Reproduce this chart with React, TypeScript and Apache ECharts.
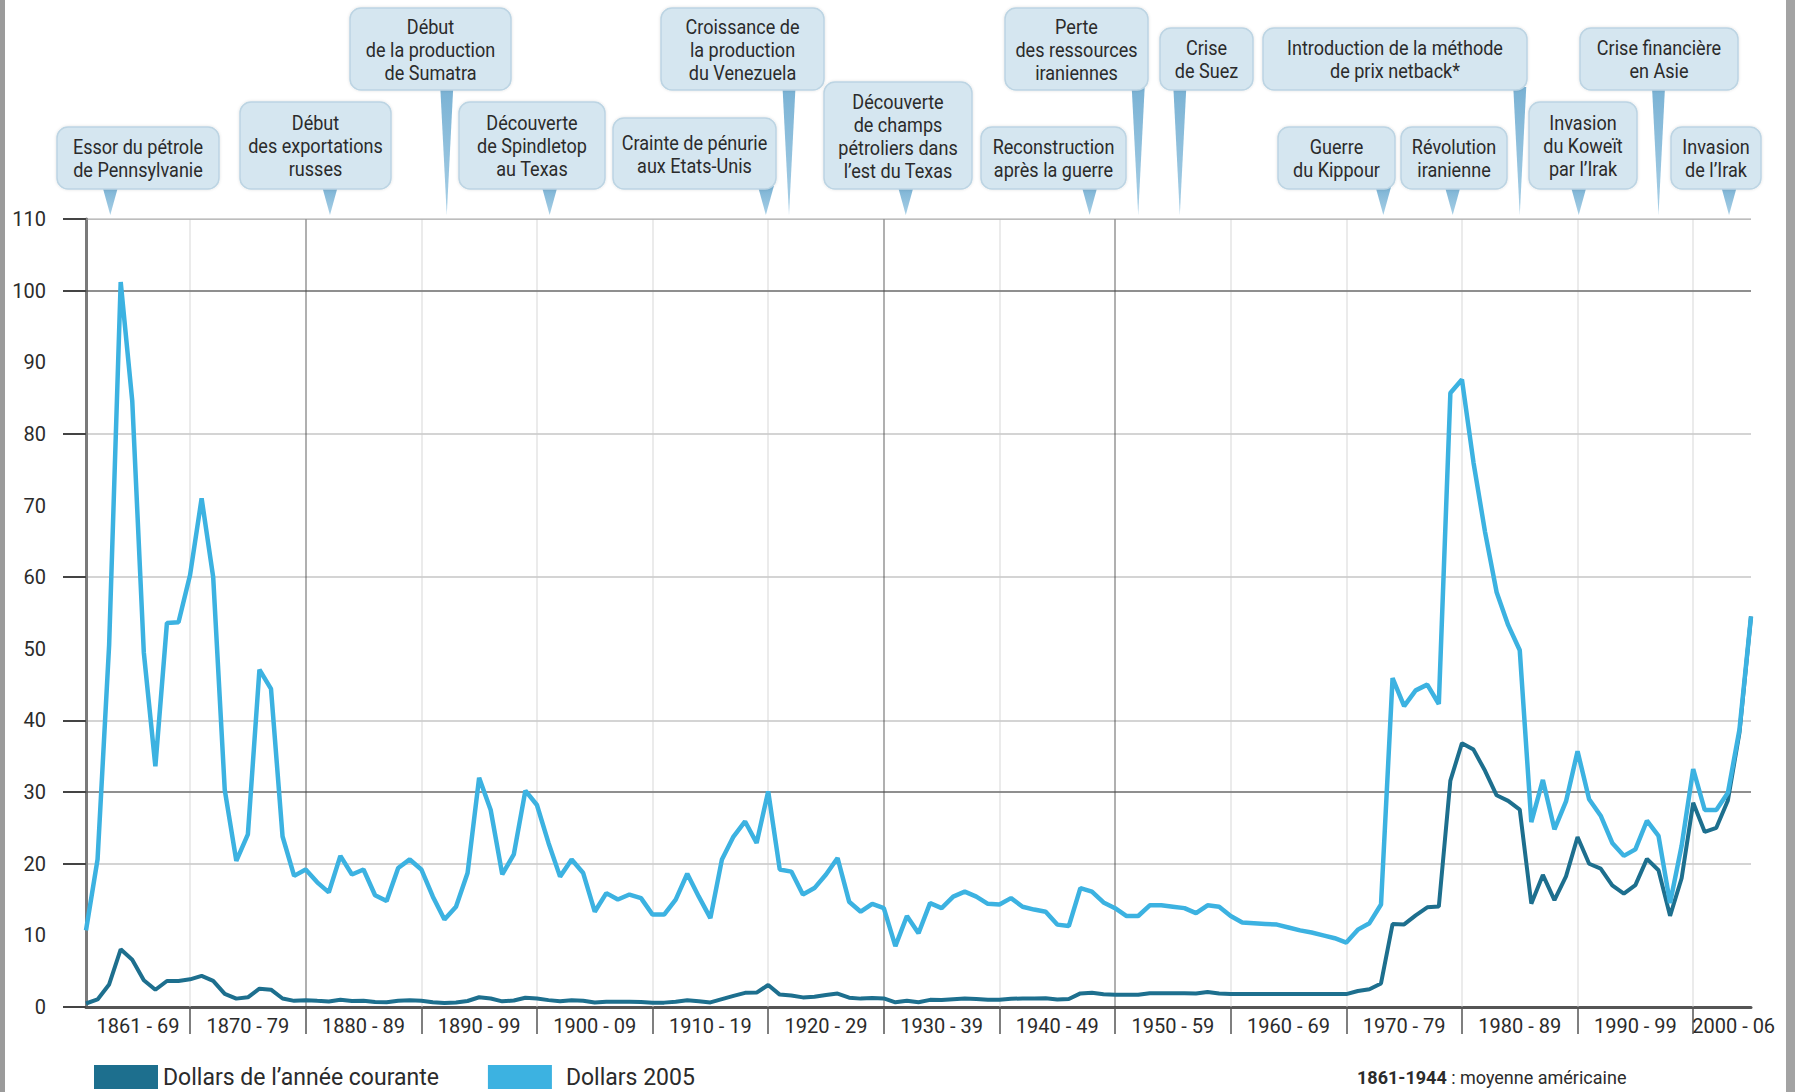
import React, { useEffect, useRef } from "react";
import * as echarts from "echarts";

// ---------- data ----------
const startYear = 1861;
const currentDollars = [
  0.49, 1.05, 3.15, 8.06, 6.59, 3.74, 2.41, 3.63, 3.64, 3.86,
  4.34, 3.64, 1.83, 1.17, 1.35, 2.56, 2.42, 1.19, 0.86, 0.95,
  0.86, 0.78, 1.0, 0.84, 0.88, 0.71, 0.67, 0.88, 0.94, 0.87,
  0.67, 0.56, 0.64, 0.84, 1.36, 1.18, 0.79, 0.91, 1.29, 1.19,
  0.96, 0.8, 0.94, 0.86, 0.62, 0.73, 0.72, 0.72, 0.7, 0.61,
  0.61, 0.74, 0.95, 0.81, 0.64, 1.1, 1.56, 1.98, 2.01, 3.07,
  1.73, 1.61, 1.34, 1.43, 1.68, 1.88, 1.3, 1.17, 1.27, 1.19,
  0.65, 0.87, 0.67, 1.0, 0.97, 1.09, 1.18, 1.13, 1.02, 1.02,
  1.14, 1.19, 1.2, 1.21, 1.05, 1.12, 1.9, 1.99, 1.78, 1.71,
  1.71, 1.71, 1.93, 1.93, 1.93, 1.93, 1.9, 2.08, 1.9, 1.8,
  1.8, 1.8, 1.8, 1.8, 1.8, 1.8, 1.8, 1.8, 1.8, 1.8,
  2.24, 2.48, 3.29, 11.58, 11.53, 12.8, 13.92, 14.02, 31.61, 36.83,
  35.93, 32.97, 29.55, 28.78, 27.56, 14.43, 18.44, 14.92, 18.23, 23.73,
  20.0, 19.32, 16.97, 15.82, 17.02, 20.67, 19.09, 12.72, 17.97, 28.5,
  24.44, 25.02, 28.83, 38.27, 54.52,
];
const dollars2005 = [
  10.7, 20.6, 50.5, 101.2, 84.6, 49.5, 33.6, 53.6, 53.7, 60.3,
  71.0, 60.0, 30.3, 20.4, 24.1, 47.1, 44.4, 23.8, 18.3, 19.2,
  17.4, 16.0, 21.1, 18.5, 19.2, 15.6, 14.8, 19.4, 20.6, 19.2,
  15.4, 12.2, 14.0, 18.7, 32.0, 27.5, 18.5, 21.3, 30.2, 28.2,
  22.9, 18.2, 20.6, 18.7, 13.3, 15.9, 15.0, 15.7, 15.2, 12.9,
  12.9, 15.0, 18.6, 15.4, 12.4, 20.6, 23.8, 25.9, 22.9, 30.1,
  19.2, 18.9, 15.7, 16.6, 18.5, 20.8, 14.7, 13.3, 14.4, 13.8,
  8.5, 12.7, 10.3, 14.5, 13.8, 15.4, 16.1, 15.4, 14.4, 14.3,
  15.2, 14.0, 13.6, 13.3, 11.5, 11.3, 16.6, 16.1, 14.6, 13.8,
  12.7, 12.7, 14.2, 14.2, 14.0, 13.8, 13.1, 14.2, 14.0, 12.7,
  11.8, 11.7, 11.6, 11.5, 11.1, 10.7, 10.4, 10.0, 9.6, 9.0,
  10.8, 11.7, 14.3, 45.9, 42.0, 44.2, 45.0, 42.3, 85.7, 87.6,
  76.0, 66.3, 57.9, 53.3, 49.8, 25.8, 31.7, 24.8, 28.7, 35.7,
  29.0, 26.7, 22.9, 21.1, 22.0, 26.0, 23.9, 14.5, 22.5, 33.2,
  27.5, 27.5, 29.9, 38.7, 54.5,
];
const seriesNames = ["Dollars de l’année courante", "Dollars 2005"];

const xLabelPositions = [1865.5, 1875, 1885, 1895, 1905, 1915, 1925, 1935, 1945, 1955, 1965, 1975, 1985, 1995, 2003.5];
const xLabels = [
  "1861 - 69", "1870 - 79", "1880 - 89", "1890 - 99", "1900 - 09", "1910 - 19", "1920 - 29",
  "1930 - 39", "1940 - 49", "1950 - 59", "1960 - 69", "1970 - 79", "1980 - 89", "1990 - 99", "2000 - 06",
];
const decadeLines = [1870, 1880, 1890, 1900, 1910, 1920, 1930, 1940, 1950, 1960, 1970, 1980, 1990, 2000];
const darkDecades = [1880, 1930, 1950];
const darkLevels = [30, 100];
const yTicks = [0, 20, 30, 40, 60, 80, 100, 110];

const events = [
  { text: "Essor du pétrole\nde Pennsylvanie", year: 1863.1 },
  { text: "Début\ndes exportations\nrusses", year: 1882.1 },
  { text: "Début\nde la production\nde Sumatra", year: 1892.2 },
  { text: "Découverte\nde Spindletop\nau Texas", year: 1901.1 },
  { text: "Crainte de pénurie\naux Etats-Unis", year: 1919.8 },
  { text: "Croissance de\nla production\ndu Venezuela", year: 1921.8 },
  { text: "Découverte\nde champs\npétroliers dans\nl’est du Texas", year: 1931.9 },
  { text: "Reconstruction\naprès la guerre", year: 1947.8 },
  { text: "Perte\ndes ressources\niraniennes", year: 1952.0 },
  { text: "Crise\nde Suez", year: 1955.6 },
  { text: "Introduction de la méthode\nde prix netback*", year: 1985.0 },
  { text: "Guerre\ndu Kippour", year: 1973.2 },
  { text: "Révolution\niranienne", year: 1979.2 },
  { text: "Invasion\ndu Koweït\npar l’Irak", year: 1990.1 },
  { text: "Crise financière\nen Asie", year: 1997.0 },
  { text: "Invasion\nde l’Irak", year: 2003.1 },
];
// box layout in px: [left, top, width, height]
const boxLayout = [
  [57, 127, 162, 62],
  [240, 102, 151, 87],
  [350, 8, 161, 82],
  [459, 102, 146, 87],
  [613, 118, 163, 71],
  [661, 8, 163, 82],
  [824, 82, 148, 107],
  [981, 127, 145, 62],
  [1005, 8, 143, 82],
  [1160, 28, 93, 62],
  [1263, 28, 264, 62],
  [1278, 127, 117, 62],
  [1401, 127, 106, 62],
  [1529, 102, 108, 87],
  [1580, 28, 158, 62],
  [1671, 127, 90, 62],
];

const FONT = "Roboto, 'Liberation Sans', sans-serif";

export default function App() {
  const ref = useRef<HTMLDivElement>(null);
  useEffect(() => {
    document.body.style.margin = "0";
    document.body.style.overflow = "hidden";
    const chart = echarts.init(ref.current!, undefined, { renderer: "svg" });
    const pts = (arr: number[]) => arr.map((v, i) => [startYear + i, v]);
    const gridLineData = [
      ...decadeLines.map((x) => ({
        coords: [[x, 0], [x, 110]],
        lineStyle: { color: darkDecades.includes(x) ? "#3a3a3a" : "#cdcdcd", width: 1.6 },
      })),
      ...darkLevels.map((y) => ({
        coords: [[startYear, y], [2005, y]],
        lineStyle: { color: "#4a4a4a", width: 2.2 },
      })),
      { coords: [[startYear, 110], [2005, 110]], lineStyle: { color: "#a5a5a5", width: 2 } },
    ];
    chart.setOption({
      animation: false,
      backgroundColor: "#ffffff",
      grid: { left: 86, right: 44, top: 219, bottom: 85, containLabel: false },
      xAxis: {
        type: "value",
        min: 1861,
        max: 2005,
        axisLine: { show: true, lineStyle: { color: "#555", width: 3 } },
        axisTick: { show: true, customValues: decadeLines, length: 27, lineStyle: { color: "#555", width: 1.5 } },
        axisLabel: {
          show: true,
          customValues: xLabelPositions,
          formatter: (v: number) => xLabels[xLabelPositions.indexOf(v)] ?? "",
          fontSize: 20,
          fontFamily: FONT,
          color: "#2b2b2b",
          margin: 9,
        },
        splitLine: { show: false },
      },
      yAxis: {
        type: "value",
        min: 0,
        max: 110,
        interval: 10,
        axisLine: { show: true, lineStyle: { color: "#7a7a7a", width: 3 } },
        axisTick: { show: true, customValues: yTicks, length: 23, lineStyle: { color: "#444", width: 2 } },
        axisLabel: { fontSize: 20, fontFamily: FONT, color: "#2b2b2b", margin: 40 },
        splitLine: { show: true, lineStyle: { color: "#d4d4d4", width: 2 } },
      },
      legend: {
        data: [
          { name: seriesNames[0] },
          { name: seriesNames[1], textStyle: { padding: [0, 0, 0, 9] } },
        ],
        left: 89,
        top: 1060,
        icon: "rect",
        itemWidth: 64,
        itemHeight: 24,
        itemGap: 49,
        textStyle: { fontSize: 23, fontFamily: FONT, color: "#2b2b2b" },
      },
      series: [
        {
          type: "lines",
          coordinateSystem: "cartesian2d",
          silent: true,
          z: 1,
          data: gridLineData,
        },
        {
          name: seriesNames[0],
          type: "line",
          data: pts(currentDollars),
          showSymbol: false,
          z: 3,
          color: "#1d6f8e",
          lineStyle: { color: "#1d6f8e", width: 4 },
        },
        {
          name: seriesNames[1],
          type: "line",
          data: pts(dollars2005),
          showSymbol: false,
          z: 4,
          color: "#3cb2e1",
          lineStyle: { color: "#3cb2e1", width: 4.5 },
        },
      ],
    });

    const tipY = (chart.convertToPixel({ yAxisIndex: 0 }, 110) as number) - 4;
    const graphics: any[] = [];
    events.forEach((ev, i) => {
      const [bx, by, bw, bh] = boxLayout[i];
      const px = chart.convertToPixel({ xAxisIndex: 0 }, ev.year) as number;
      const topRow = by < 60;
      const hw = topRow ? 6.5 : 8;
      const baseY = by + bh - 3;
      graphics.push({
        type: "polygon",
        shape: { points: [[px - hw, baseY], [px + hw, baseY], [px, tipY]] },
        style: {
          fill: new echarts.graphic.LinearGradient(0, 0, 0, 1, [
            { offset: 0, color: "#7ab2d4" },
            { offset: 1, color: "#a7cfe6" },
          ]),
        },
        z: 10,
      });
      graphics.push({
        type: "rect",
        shape: { x: bx, y: by, width: bw, height: bh, r: 11 },
        style: { fill: "#d5e6f0", stroke: "#bcd4e3", lineWidth: 1.5, shadowBlur: 3, shadowColor: "rgba(0,0,0,0.12)" },
        z: 11,
      });
      graphics.push({
        type: "text",
        x: bx + bw / 2,
        y: by + bh / 2 + 1,
        scaleX: 0.86,
        style: {
          text: ev.text,
          fontSize: 21,
          fontFamily: FONT,
          fill: "#2b2b2b",
          align: "center",
          verticalAlign: "middle",
          lineHeight: 23,
        },
        z: 12,
      });
    });
    graphics.push({
      type: "text",
      x: 1357,
      y: 1068,
      style: {
        text: "{b|1861-1944} : moyenne américaine",
        fontSize: 18,
        fontFamily: FONT,
        fill: "#2b2b2b",
        rich: { b: { fontWeight: "bold", fontSize: 18, fontFamily: FONT } },
      },
      z: 12,
    });
    graphics.push({ type: "rect", shape: { x: 0, y: 0, width: 5, height: 1092 }, style: { fill: "#9b9b9b" }, z: 20 });
    graphics.push({ type: "rect", shape: { x: 1786, y: 0, width: 9, height: 1092 }, style: { fill: "#a3a3a3" }, z: 20 });
    chart.setOption({ graphic: graphics });

    return () => chart.dispose();
  }, []);
  return <div ref={ref} style={{ width: "1795px", height: "1092px" }} />;
}
